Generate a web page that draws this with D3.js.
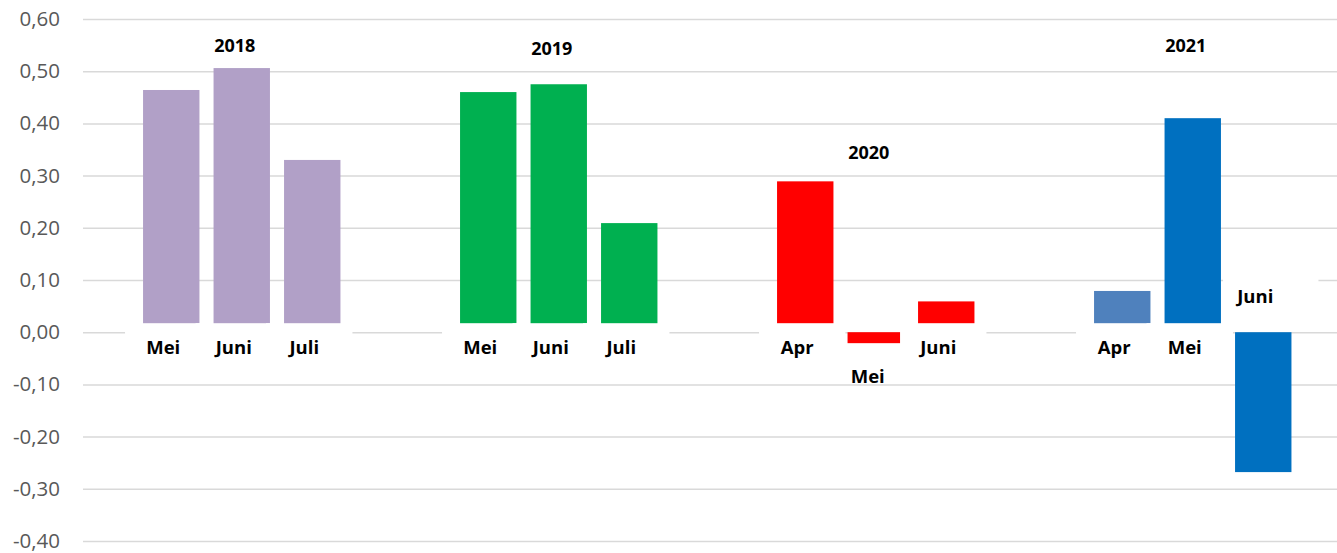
<!DOCTYPE html>
<html>
<head>
<meta charset="utf-8">
<script src="https://cdn.jsdelivr.net/npm/d3@7"></script>
<style>
  html, body { margin: 0; padding: 0; background: #fff; }
  svg { display: block; }
</style>
</head>
<body>
<svg id="chart" width="1337" height="553"></svg>
<script>
// data
var years = ['2018', '2019', '2020', '2021'];
var months = [
    ['Mei', 'Juni', 'Juli'],
    ['Mei', 'Juni', 'Juli'],
    ['Apr', 'Mei', 'Juni'],
    ['Apr', 'Mei', 'Juni']
];
var values = [
    [0.464, 0.506, 0.330],
    [0.460, 0.475, 0.209],
    [0.289, -0.021, 0.059],
    [0.079, 0.410, -0.268]
];
var barColors = [
    ['#B1A0C7', '#B1A0C7', '#B1A0C7'],
    ['#00B050', '#00B050', '#00B050'],
    ['#FF0000', '#FF0000', '#FF0000'],
    ['#4F81BD', '#0070C0', '#0070C0']
];
// where the year captions sit, in axis units
var yearLabelAt = [0.548, 0.544, 0.343, 0.548];
var yTicks = [-0.4, -0.3, -0.2, -0.1, 0, 0.1, 0.2, 0.3, 0.4, 0.5, 0.6];

var svg = d3.select('#chart');
var W = 1337, gridLeft = 83;

var y = d3.scaleLinear().domain([-0.4, 0.6]).range([541, 19]);

var xGroup = d3.scaleBand().domain(years).range([136, 136 + 4 * 317]);
var xBar = d3.scaleBand().domain([0, 1, 2])
    .range([0, 211.5])
    .paddingInner(0.2)
    .paddingOuter(0.1);

var fmt = function(v) {
    return d3.format('.2f')(v).replace('.', ',').replace('−', '-');
};

// gridlines
var yAxis = d3.axisLeft(y)
    .tickValues(yTicks)
    .tickSize(-(W - gridLeft))
    .tickFormat(fmt);

var ag = svg.append('g')
    .attr('transform', 'translate(' + gridLeft + ',0)')
    .call(yAxis);
ag.select('.domain').remove();
ag.selectAll('.tick line')
    .attr('stroke', '#d9d9d9')
    .attr('stroke-width', 1.5);
ag.selectAll('.tick text')
    .attr('x', -23)
    .attr('fill', '#595959')
    .style('font-family', '"Open Sans", sans-serif')
    .style('font-size', '20.5px');

// flatten bars
var bars = [];
years.forEach(function(yr, gi) {
    values[gi].forEach(function(v, bi) {
        bars.push({
            year: yr, gi: gi, bi: bi, value: v,
            month: months[gi][bi], color: barColors[gi][bi]
        });
    });
});

function barX(d) { return xGroup(d.year) + xBar(d.bi); }

svg.append('g').selectAll('rect')
    .data(bars)
    .enter().append('rect')
    .attr('x', barX)
    .attr('width', xBar.bandwidth())
    .attr('y', function(d) { return y(Math.max(0, d.value)); })
    .attr('height', function(d) { return Math.abs(y(d.value) - y(0)); })
    .attr('fill', function(d) { return d.color; });

// month captions with white boxes (they hide the bar feet and zero line)
function labelPos(d) {
    var cx = barX(d) + xBar.bandwidth() / 2 - 8;
    if(d.value >= 0) return {x: cx, y: y(0) + 15, box: 'below'};
    if(d.value > -0.05) return {x: cx, y: y(d.value) + 33, box: 'under'};
    return {x: cx, y: y(0) - 36, box: 'above'};
}

var lab = svg.append('g');
bars.forEach(function(d) {
    var p = labelPos(d);
    var bx = barX(d), bw = xBar.bandwidth();
    if(p.box === 'below') {
        lab.append('rect')
            .attr('x', bx - 18).attr('width', bw + 30)
            .attr('y', y(0) - 9).attr('height', 38)
            .attr('fill', '#fff');
    } else if(p.box === 'above') {
        lab.append('rect')
            .attr('x', bx - 12).attr('width', bw + 39)
            .attr('y', y(0) - 54).attr('height', 52)
            .attr('fill', '#fff');
    }
});
bars.forEach(function(d) {
    var p = labelPos(d);
    lab.append('text')
        .attr('x', p.x)
        .attr('y', p.y)
        .attr('dy', '0.35em')
        .attr('text-anchor', 'middle')
        .style('font-family', '"Open Sans", sans-serif')
        .style('font-weight', 'bold')
        .style('font-size', '18.5px')
        .attr('fill', '#000')
        .text(d.month);
});

// year captions
svg.append('g').selectAll('text')
    .data(years)
    .enter().append('text')
    .attr('x', function(d) { return xGroup(d) + 211.5 / 2 - 7; })
    .attr('y', function(d, i) { return y(yearLabelAt[i]); })
    .attr('dy', '0.35em')
    .attr('text-anchor', 'middle')
    .style('font-family', '"Open Sans", sans-serif')
    .style('font-weight', 'bold')
    .style('font-size', '18px')
    .attr('fill', '#000')
    .text(function(d) { return d; });
</script>
</body>
</html>
